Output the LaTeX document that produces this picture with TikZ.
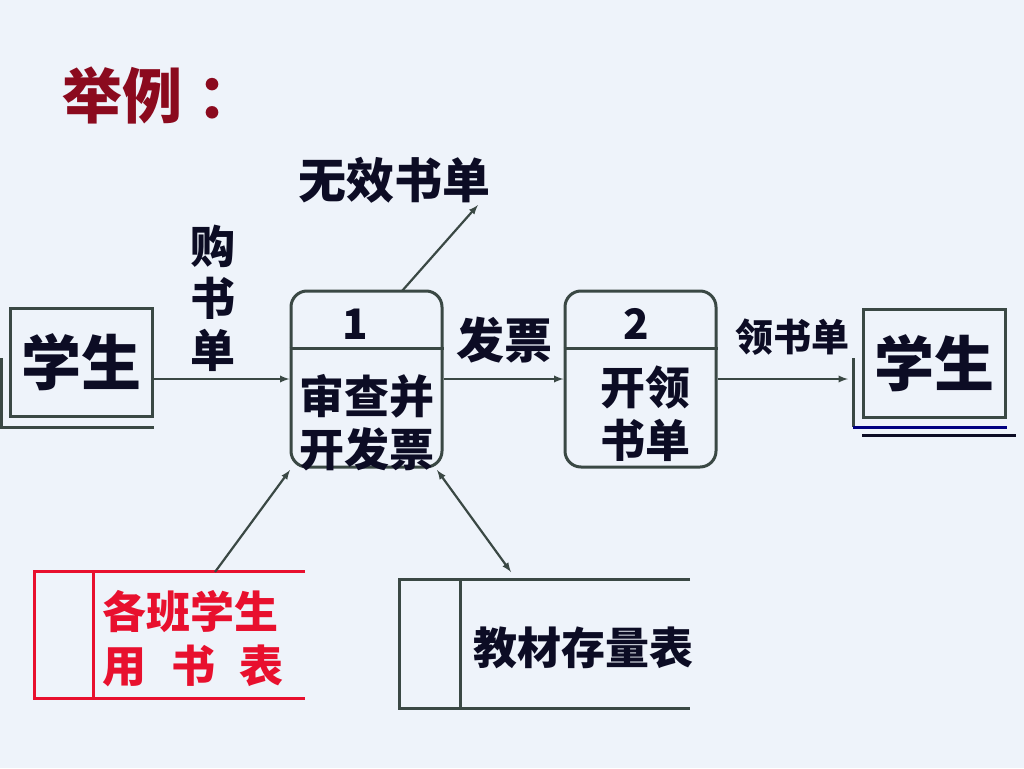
\documentclass[tikz,border=0pt]{standalone}
\usepackage{fontspec}
\setmainfont{Noto Sans CJK SC}
\usepackage{xcolor}
\usetikzlibrary{arrows}
\definecolor{slideBg}{HTML}{EEF3FA}
\definecolor{lineGrey}{HTML}{3A4844}
\definecolor{inkBlue}{HTML}{0C0C24}
\definecolor{titleRed}{HTML}{8B0A1E}
\definecolor{storeRed}{HTML}{E8102E}
\definecolor{lineNavy}{HTML}{000080}

\begin{document}
\begin{tikzpicture} [
    x=1pt, y=-1pt,
    edge/.style={-latex, line width=2.2pt, color=lineGrey},
    biEdge/.style={latex-latex, line width=2.2pt, color=lineGrey},
    entity/.style={rectangle, draw=lineGrey, line width=3pt, minimum width=142pt, minimum height=108pt, inner sep=0pt, text=inkBlue, font=\bfseries\fontsize{60}{60}\selectfont},
    process/.style={rectangle, rounded corners=16pt, draw=lineGrey, line width=3pt, minimum width=151pt, minimum height=176pt, inner sep=0pt},
    store/.style={rectangle, minimum height=126pt, inner sep=0pt},
    label/.style={inner sep=0pt, text=inkBlue, font=\bfseries\fontsize{46}{54}\selectfont, align=center}
]

\fill[slideBg] (0,0) rectangle (1024,768);
\useasboundingbox (0,0) rectangle (1024,768);

\node[inner sep=0pt, anchor=west, text=titleRed, font=\bfseries\fontsize{60}{60}\selectfont] (title) at (62,95) {举例\hspace{0.25em}：};

\node[entity] (studentIn) at (81,362) {\raisebox{-5pt}{学生}};
\draw[lineGrey, line width=3pt] (1,358) -- (1,427) -- (studentIn.south east |- 0,427);

\node[process] (checkProc) at (366.5,379) {};
\draw[lineGrey, line width=3pt] ([yshift=-59pt]checkProc.north west) -- ([yshift=-59pt]checkProc.north east);
\node[label, font=\bfseries\fontsize{42}{42}\selectfont] (checkNum) at (355,324) {1};
\node[label, font=\bfseries\fontsize{45}{53}\selectfont] (checkText) at (367,423) {审查并\\开发票};

\node[process] (issueProc) at (640.5,379) {};
\draw[lineGrey, line width=3pt] ([yshift=-59pt]issueProc.north west) -- ([yshift=-59pt]issueProc.north east);
\node[label, font=\bfseries\fontsize{42}{42}\selectfont] (issueNum) at (636,324) {2};
\node[label, font=\bfseries\fontsize{45}{53}\selectfont] (issueText) at (645,414) {开领\\书单};

\node[entity] (studentOut) at (934,363) {\raisebox{-5pt}{学生}};
\draw[lineGrey, line width=3pt] (853,358) -- (853,427);
\draw[lineNavy, line width=3pt] (853,427) -- (studentOut.south east |- 0,427);
\draw[inkBlue, line width=3pt] (862,435) -- (1016,435);

\node[label, font=\bfseries\fontsize{45}{52}\selectfont] (orderLabel) at (213,298) {购\\书\\单};
\draw[edge] (checkProc.west -| studentIn.east) -- (checkProc.west);

\node[label, font=\bfseries\fontsize{48}{48}\selectfont] (invoiceLabel) at (504,340) {发票};
\draw[edge] (checkProc.east) -- (issueProc.west);

\node[label, font=\bfseries\fontsize{38}{38}\selectfont] (slipLabel) at (792,337) {领书单};
\draw[edge] (issueProc.east) -- (issueProc.east -| 848,0);

\node[label, font=\bfseries\fontsize{48}{48}\selectfont] (invalidLabel) at (394,180) {无效书单};
\coordinate (invalidEnd) at (478,205);
\draw[edge] (402,291) -- (invalidEnd);

\node[store, minimum width=270pt] (classStore) at (170,635) {};
\draw[storeRed, line width=3pt] (classStore.north east) -- (classStore.north west) -- (classStore.south west) -- (classStore.south east);
\draw[storeRed, line width=3pt] (93,572) -- (93,698);
\node[label, text=storeRed, align=left, font=\bfseries\fontsize{44}{54}\selectfont] (classText) at (193,639) {各班学生\\用\hspace{0.55em}书\hspace{0.55em}表};
\coordinate (classOut) at (215,572);
\draw[edge] (classOut) -- (290,470);

\node[store, minimum width=290pt, minimum height=128pt] (bookStore) at (545,644) {};
\draw[lineGrey, line width=3pt] (bookStore.north east) -- (bookStore.north west) -- (bookStore.south west) -- (bookStore.south east);
\draw[lineGrey, line width=3pt] (460,580) -- (460,708);
\node[label, font=\bfseries\fontsize{44}{44}\selectfont] (bookText) at (583,648) {教材存量表};
\draw[biEdge] (437,470) -- (511,572);

\end{tikzpicture}
\end{document}
